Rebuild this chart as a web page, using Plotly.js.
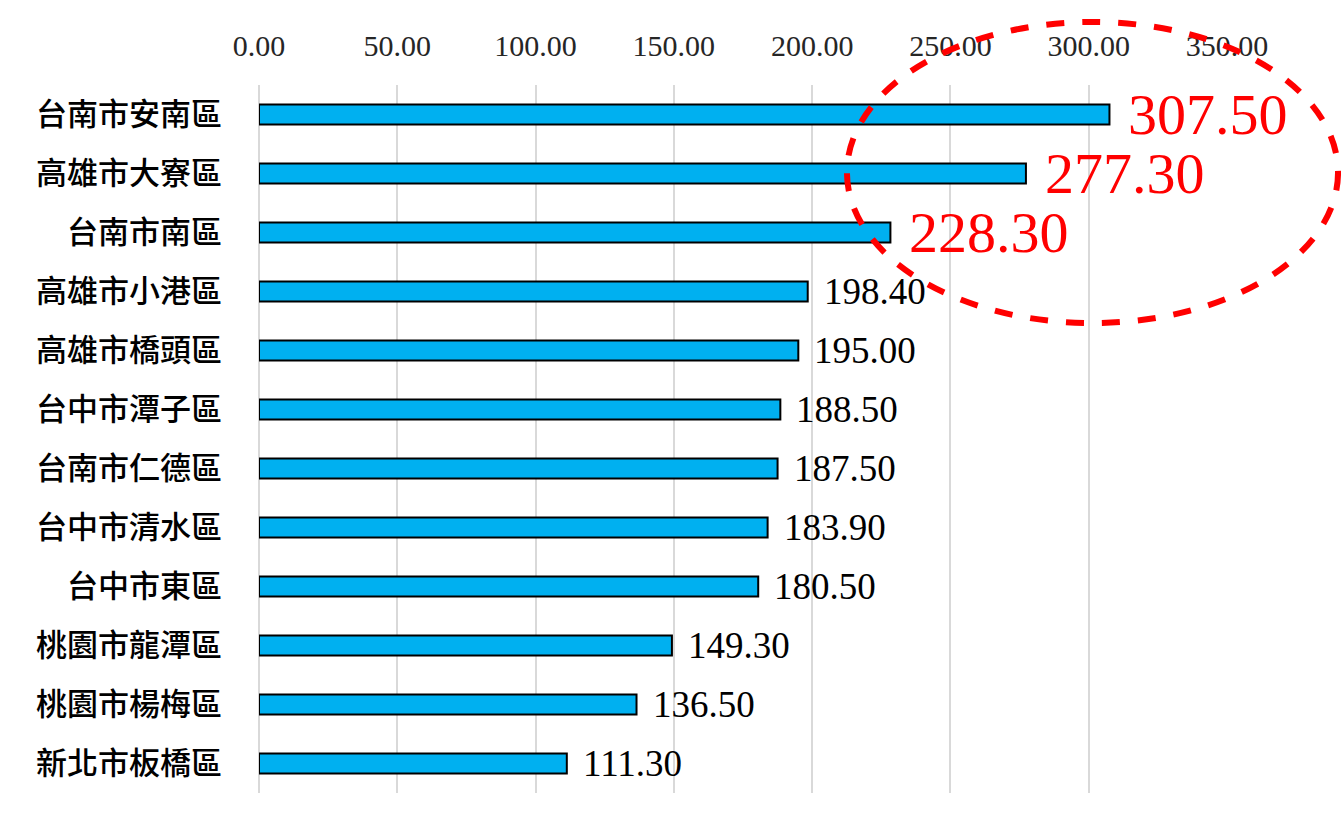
<!DOCTYPE html>
<html>
<head>
<meta charset="utf-8">
<script src="https://cdn.plot.ly/plotly-3.0.1.min.js"></script>
<style>
  body { margin: 0; background: #fff; }
  #grafico { width: 1341px; height: 840px; }
</style>
</head>
<body>
<div id="grafico"></div>
<script>
// districts, top to bottom
var distritos = ['台南市安南區', '高雄市大寮區', '台南市南區', '高雄市小港區', '高雄市橋頭區',
  '台中市潭子區', '台南市仁德區', '台中市清水區', '台中市東區', '桃園市龍潭區',
  '桃園市楊梅區', '新北市板橋區'];
var valores = [307.50, 277.30, 228.30, 198.40, 195.00, 188.50, 187.50, 183.90, 180.50, 149.30, 136.50, 111.30];
var destacados = 3; // first three get the big red labels

var numFont = '"Liberation Serif", "DejaVu Serif", serif';

var trace = {
  type: 'bar',
  orientation: 'h',
  x: valores,
  y: distritos,
  marker: { color: '#00B0F0', line: { color: '#000000', width: 2 } },
  hoverinfo: 'skip'
};

// value labels beside each bar
var etiquetas = valores.map(function (v, i) {
  var grande = i < destacados;
  return {
    x: v, y: distritos[i], xref: 'x', yref: 'y',
    text: v.toFixed(2),
    showarrow: false,
    xanchor: 'left',
    xshift: grande ? 17 : 14,
    font: { family: numFont, size: grande ? 58 : 37, color: grande ? '#FF0000' : '#000000' }
  };
});

var layout = {
  width: 1341,
  height: 840,
  margin: { l: 259, r: 114, t: 85, b: 47 },
  paper_bgcolor: '#ffffff',
  plot_bgcolor: '#ffffff',
  showlegend: false,
  bargap: 0.66,
  xaxis: {
    side: 'top',
    range: [0, 350],
    dtick: 50,
    tickformat: '.2f',
    automargin: false,
    showgrid: true,
    gridcolor: '#D9D9D9',
    gridwidth: 2,
    zeroline: true,
    zerolinecolor: '#D9D9D9',
    zerolinewidth: 2,
    showline: false,
    ticks: '',
    ticklabelstandoff: 22,
    tickfont: { family: numFont, size: 30, color: '#262626' }
  },
  yaxis: {
    // fixed so the big labels don't stretch the category range
    range: [distritos.length - 0.5, -0.5],
    automargin: false,
    showgrid: false,
    zeroline: false,
    showline: false,
    ticks: '',
    ticklabelstandoff: 36,
    tickfont: { family: '"Noto Sans CJK TC", "Noto Sans", sans-serif', size: 31, weight: 500, color: '#000000' }
  },
  annotations: etiquetas,
  shapes: [{
    type: 'circle',
    xref: 'paper', yref: 'paper',
    x0: 0.6074, x1: 1.1147,
    y0: 0.6638, y1: 1.089,
    line: { color: '#FF0000', width: 6, dash: 'dash' }
  }]
};

Plotly.newPlot('grafico', [trace], layout, { displayModeBar: false, staticPlot: true });
</script>
</body>
</html>
